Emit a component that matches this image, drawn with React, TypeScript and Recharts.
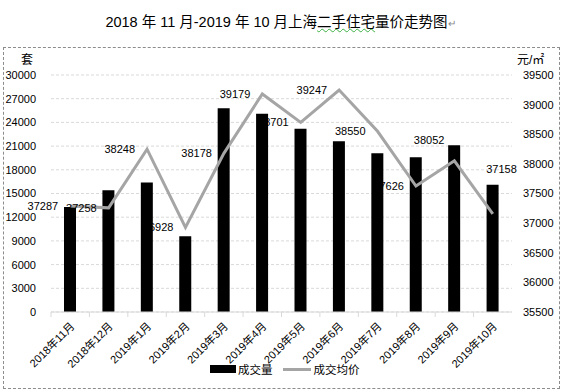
import React from "react";
import {
  ComposedChart,
  Bar,
  Line,
  XAxis,
  YAxis,
  CartesianGrid,
  LabelList,
} from "recharts";

const months = [
  "2018年11月",
  "2018年12月",
  "2019年1月",
  "2019年2月",
  "2019年3月",
  "2019年4月",
  "2019年5月",
  "2019年6月",
  "2019年7月",
  "2019年8月",
  "2019年9月",
  "2019年10月",
];

// 成交量 (套)
const volume = [13300, 15400, 16400, 9600, 25800, 25100, 23200, 21600, 20100, 19600, 21100, 16100];

// 成交均价 (元/㎡)
const avgPrice = [37287, 37258, 38248, 36928, 38178, 39179, 38701, 39247, 38550, 37626, 38052, 37158];

const leftTicks = [0, 3000, 6000, 9000, 12000, 15000, 18000, 21000, 24000, 27000, 30000];
const rightTicks = [35500, 36000, 36500, 37000, 37500, 38000, 38500, 39000, 39500];

const data = months.map((m, i) => ({ month: m, vol: volume[i], price: avgPrice[i] }));

// label nudges (Excel had a couple moved by hand)
const labelShift: [number, number][] = [
  [0, 0], [0, 0], [0, 0], [0, 0], [0, 0], [0, 0],
  [0, 0], [0, 0], [0, 0], [0, 0], [2, -21], [36, -45],
];

const W = 561;
const H = 392;
const M = { top: 75, right: 0, bottom: 0, left: 5 };
const LEFT_W = 46;
const RIGHT_W = 49;
const HALF_BAND = (W - M.left - M.right - LEFT_W - RIGHT_W) / months.length / 2;

const FONT = '"Liberation Sans", "Noto Sans CJK SC", sans-serif';
const GRAY = "#a5a5a5";

function MonthTick(props: any) {
  const { x, y, payload } = props;
  return (
    <g>
      <line x1={x - HALF_BAND} y1={y} x2={x - HALF_BAND} y2={y + 5} stroke="#d9d9d9" />
      <text
        transform={`translate(${x + 5},${y + 15}) rotate(-45)`}
        textAnchor="end"
        fontSize={11}
        fontFamily={FONT}
        fill="#000"
      >
        {payload.value}
      </text>
    </g>
  );
}

function PriceLabel(props: any) {
  const { x, y, value, index } = props;
  const [dx, dy] = labelShift[index] || [0, 0];
  return (
    <text
      x={x - 12 + dx}
      y={y + dy}
      dy={4}
      textAnchor="end"
      fontSize={11}
      fontFamily={FONT}
      fill="#000"
    >
      {value}
    </text>
  );
}

export default function App() {
  return (
    <div
      style={{
        position: "absolute",
        left: 0,
        top: 0,
        width: W,
        height: H,
        background: "#fff",
        fontFamily: FONT,
      }}
    >
      <div
        style={{
          position: "absolute",
          top: 10,
          left: 0,
          width: W,
          textAlign: "center",
          fontSize: 14.5,
          color: "#000",
          whiteSpace: "nowrap",
        }}
      >
        2018 年 11 月-2019 年 10 月上海
        <span style={{ textDecoration: "underline wavy #3cb043", textDecorationThickness: 1 }}>
          二手住宅
        </span>
        量价走势图
        <span style={{ color: "#888", fontSize: 10 }}>↵</span>
      </div>

      <div
        style={{
          position: "absolute",
          left: 3,
          top: 47,
          width: 555,
          height: 340,
          border: "1px dashed #8c8c8c",
        }}
      />

      <div style={{ position: "absolute", left: 21, top: 50, fontSize: 12 }}>套</div>
      <div style={{ position: "absolute", left: 517, top: 50, fontSize: 12 }}>元/㎡</div>

      <div style={{ position: "absolute", left: 0, top: 0 }}>
        <ComposedChart width={W} height={H} data={data} margin={M}>
          <CartesianGrid
            yAxisId="left"
            vertical={false}
            stroke="#d9d9d9"
            strokeDasharray="3 2"
          />
          <XAxis
            dataKey="month"
            interval={0}
            height={80}
            tickLine={false}
            tickSize={0}
            tickMargin={0}
            axisLine={{ stroke: "#d9d9d9" }}
            tick={<MonthTick />}
          />
          <YAxis
            yAxisId="left"
            orientation="left"
            width={LEFT_W}
            domain={[0, 30000]}
            ticks={leftTicks}
            interval={0}
            axisLine={false}
            tickLine={false}
            tickSize={0}
            tickMargin={15}
            tick={{ fontSize: 11, fill: "#000", fontFamily: FONT }}
          />
          <YAxis
            yAxisId="right"
            orientation="right"
            width={RIGHT_W}
            domain={[35500, 39500]}
            ticks={rightTicks}
            interval={0}
            axisLine={false}
            tickLine={false}
            tickSize={0}
            tickMargin={11}
            tick={{ fontSize: 11, fill: "#000", fontFamily: FONT }}
          />
          <Bar
            yAxisId="left"
            dataKey="vol"
            fill="#000"
            barSize={12}
            isAnimationActive={false}
          />
          <Line
            yAxisId="right"
            dataKey="price"
            type="linear"
            stroke={GRAY}
            strokeWidth={3}
            dot={false}
            activeDot={false}
            isAnimationActive={false}
          >
            <LabelList dataKey="price" content={<PriceLabel />} />
          </Line>
        </ComposedChart>
      </div>

      {/* legend */}
      <div
        style={{
          position: "absolute",
          top: 361,
          left: 210,
          display: "flex",
          alignItems: "center",
          fontSize: 11.5,
          color: "#000",
        }}
      >
        <span style={{ display: "inline-block", width: 26, height: 8, background: "#000", marginRight: 2 }} />
        <span>成交量</span>
        <span style={{ display: "inline-block", width: 28, height: 3, background: GRAY, marginLeft: 10, marginRight: 3 }} />
        <span>成交均价</span>
      </div>
    </div>
  );
}
